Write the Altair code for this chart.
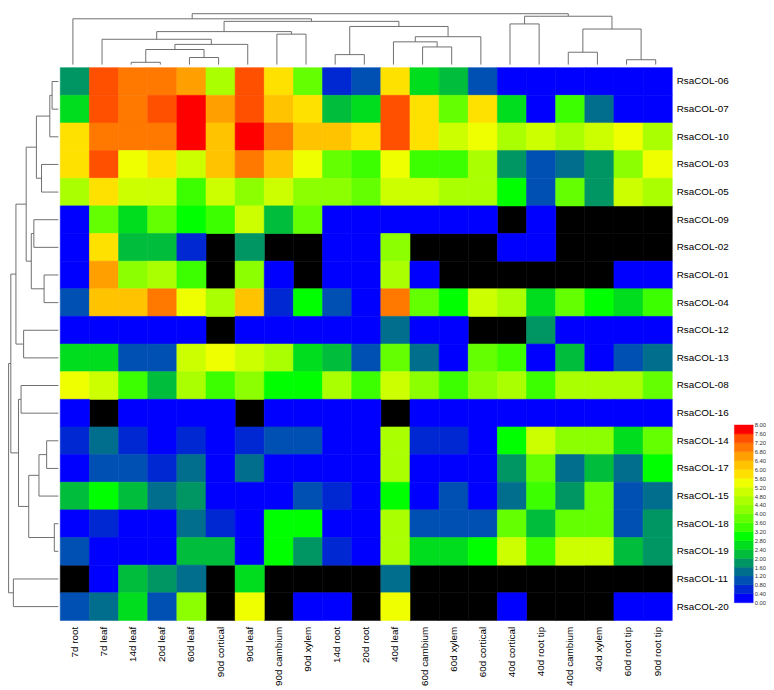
import altair as alt
import pandas as pd

N = None

genes = ["RsaCOL-06", "RsaCOL-07", "RsaCOL-10", "RsaCOL-03", "RsaCOL-05", "RsaCOL-09",
         "RsaCOL-02", "RsaCOL-01", "RsaCOL-04", "RsaCOL-12", "RsaCOL-13", "RsaCOL-08",
         "RsaCOL-16", "RsaCOL-14", "RsaCOL-17", "RsaCOL-15", "RsaCOL-18", "RsaCOL-19",
         "RsaCOL-11", "RsaCOL-20"]

tissues = ["7d root", "7d leaf", "14d leaf", "20d leaf", "60d leaf", "90d cortical",
           "90d leaf", "90d cambium", "90d xylem", "14d root", "20d root", "40d leaf",
           "60d cambium", "60d xylem", "60d cortical", "40d cortical", "40d root tip",
           "40d cambium", "40d xylem", "60d root tip", "90d root tip"]

# expression values per gene (columns in tissue order), None = missing (black)
col06 = [1.8, 7.4, 7.0, 7.0, 6.6, 4.6, 7.4, 5.8, 3.8, 0.5, 1.0, 5.8, 2.6, 2.2, 1.0, 0.2, 0.2, 0.2, 0.2, 0.2, 0.2]
col07 = [2.7, 7.4, 7.0, 7.4, 7.8, 6.6, 7.4, 6.2, 5.8, 2.2, 2.7, 7.4, 5.9, 3.7, 5.9, 2.6, 0.2, 3.3, 1.4, 0.2, 0.2]
col10 = [5.8, 7.0, 7.0, 7.0, 7.8, 6.2, 8.0, 7.0, 6.2, 6.2, 5.8, 7.4, 5.9, 5.0, 5.4, 4.6, 5.0, 4.6, 5.0, 5.4, 4.6]
col03 = [5.8, 7.4, 5.4, 5.8, 5.0, 6.2, 7.0, 6.2, 5.4, 3.7, 3.3, 5.4, 3.4, 3.4, 4.5, 1.8, 0.9, 1.3, 1.8, 4.1, 5.4]
col05 = [4.6, 5.8, 5.0, 5.0, 3.4, 5.0, 4.1, 5.0, 4.1, 4.1, 3.7, 5.0, 5.0, 4.6, 4.6, 3.0, 1.0, 3.7, 1.8, 5.0, 4.6]
col09 = [0.2, 3.7, 2.5, 3.7, 3.0, 3.3, 5.0, 2.2, 3.7, 0.2, 0.2, 0.2, 0.2, 0.2, 0.2, N, 0.2, N, N, N, N]
col02 = [0.2, 5.8, 2.2, 2.2, 0.6, N, 1.8, N, N, 0.2, 0.2, 4.3, N, N, N, 0.2, 0.2, N, N, N, N]
col01 = [0.2, 6.6, 4.1, 4.6, 3.3, N, 4.1, 0.2, N, 0.2, 0.2, 4.6, 0.2, N, N, N, N, N, N, 0.2, 0.2]
col04 = [1.0, 6.2, 6.2, 7.0, 5.4, 4.6, 6.2, 0.6, 3.0, 1.0, 0.2, 7.0, 3.7, 3.0, 5.0, 4.5, 2.5, 3.7, 3.0, 2.5, 3.4]
col12 = [0.2, 0.2, 0.2, 0.2, 0.2, N, 0.2, 0.2, 0.2, 0.2, 0.2, 1.4, 0.2, 0.2, N, N, 1.8, 0.2, 0.2, 0.2, 0.2]
col13 = [2.7, 2.7, 1.0, 1.0, 5.0, 5.4, 5.1, 4.6, 2.7, 2.2, 1.0, 3.7, 1.4, 0.2, 3.7, 3.3, 0.2, 2.2, 0.2, 1.0, 1.4]
col08 = [5.4, 5.0, 3.4, 2.2, 4.6, 3.4, 4.1, 3.1, 3.1, 4.6, 3.4, 5.0, 4.1, 3.4, 4.1, 4.5, 3.4, 4.6, 4.5, 4.5, 3.7]
col16 = [0.2, N, 0.2, 0.2, 0.2, 0.2, N, 0.2, 0.2, 0.2, 0.2, N, 0.2, 0.2, 0.2, 0.2, 0.2, 0.2, 0.2, 0.2, 0.2]
col14 = [0.6, 1.4, 0.6, 0.2, 0.6, 0.2, 0.6, 1.0, 1.0, 0.2, 0.2, 4.6, 0.6, 0.6, 0.2, 3.0, 5.0, 4.1, 4.1, 2.6, 3.7]
col17 = [0.2, 1.0, 1.0, 0.6, 1.4, 0.2, 1.4, 0.2, 0.2, 0.2, 0.2, 4.5, 0.2, 0.2, 0.2, 1.8, 3.7, 1.4, 2.2, 1.4, 3.0]
col15 = [2.2, 3.1, 2.2, 1.4, 1.8, 0.2, 0.2, 0.2, 0.9, 0.6, 0.2, 3.0, 0.2, 1.0, 0.2, 1.4, 3.3, 1.8, 3.7, 0.9, 1.4]
col18 = [0.2, 0.6, 0.2, 0.2, 1.4, 0.6, 0.2, 2.9, 2.9, 0.2, 0.2, 4.5, 1.0, 1.0, 1.0, 3.7, 2.2, 3.7, 3.7, 1.0, 1.8]
col19 = [1.0, 0.2, 0.2, 0.2, 2.2, 2.2, 0.2, 2.9, 1.8, 0.6, 0.2, 4.5, 2.7, 2.7, 3.0, 5.0, 3.3, 5.0, 5.0, 2.2, 1.8]
col11 = [N, 0.2, 2.2, 1.8, 1.4, N, 2.7, N, N, N, N, 1.4, N, N, N, N, N, N, N, N, N]
col20 = [1.0, 1.4, 2.7, 0.9, 4.1, N, 5.4, N, 0.2, 0.2, N, 5.4, N, N, N, 0.2, N, N, N, 0.2, 0.2]

gene_values = [col06, col07, col10, col03, col05, col09, col02, col01, col04, col12,
               col13, col08, col16, col14, col17, col15, col18, col19, col11, col20]

# colour key
key_ticks = [0.0, 0.4, 0.8, 1.2, 1.6, 2.0, 2.4, 2.8, 3.2, 3.6, 4.0,
             4.4, 4.8, 5.2, 5.6, 6.0, 6.4, 6.8, 7.2, 7.6, 8.0]
key_colors = ["#0000FF", "#0028D2", "#0050B4", "#006E8C", "#009664", "#00BE3C", "#00DC1E",
              "#00FF00", "#3CFF00", "#64FF00", "#8CFF00", "#AAFF00", "#CCFF00", "#F0FF00",
              "#FFE100", "#FFC300", "#FFA000", "#FF7800", "#FF5000", "#FF0000"]

# column dendrogram (leaf indices 0..20, new nodes numbered 21..)
top_left = [2, 4, 19, 9, 17, 21, 12, 26, 11, 1, 29, 7, 30, 25, 24, 15, 33, 0, 36, 38]
top_right = [3, 5, 20, 10, 18, 22, 13, 6, 27, 28, 14, 8, 32, 23, 31, 16, 35, 37, 34, 39]
top_height = [2.7, 8.3, 5.7, 11.7, 14.5, 17.7, 20.7, 23.7, 26.7, 29.7, 32.7, 35.7,
              38.7, 41.7, 44.7, 47.7, 50.7, 53.7, 56.7, 59.7]

# row dendrogram (leaf indices 0..19, new nodes numbered 20..)
side_left = [0, 20, 16, 13, 7, 3, 23, 21, 5, 28, 26, 27, 9, 11, 33, 31, 18, 35, 37]
side_right = [1, 2, 17, 14, 8, 4, 15, 25, 6, 24, 22, 29, 10, 12, 30, 32, 19, 34, 36]
side_height = [7.3, 10.0, 4.7, 13.7, 16.7, 19.7, 22.7, 25.7, 28.7, 31.7, 34.7, 37.7,
               40.7, 43.7, 46.7, 49.7, 52.7, 55.7, 58.3]


def dendro_segments(n_leaves, left, right, height):
    pos = {i: i + 0.5 for i in range(n_leaves)}
    hgt = {i: 0.0 for i in range(n_leaves)}
    segs = []
    for k, (a, b, hh) in enumerate(zip(left, right, height)):
        pa, pb = pos[a], pos[b]
        segs.append(dict(p=pa, p2=pa, h=hgt[a], h2=hh))
        segs.append(dict(p=pb, p2=pb, h=hgt[b], h2=hh))
        segs.append(dict(p=pa, p2=pb, h=hh, h2=hh))
        node = n_leaves + k
        pos[node] = (pa + pb) / 2
        hgt[node] = hh
    return pd.DataFrame(segs)


FONT = "Liberation Sans"
LINE = "#6e6e6e"
CELL_W, CELL_H = 620, 560
SIDE_W, TOP_H = 51, 54

rows = []
for g, vals in zip(genes, gene_values):
    for t, v in zip(tissues, vals):
        rows.append(dict(gene=g, tissue=t, value=v))
heat_df = pd.DataFrame(rows)

xenc = alt.X("tissue:N", sort=tissues,
             axis=alt.Axis(orient="bottom", labelAngle=270, ticks=False, domain=False,
                           labelPadding=6, labelFontSize=10, labelFont=FONT,
                           labelColor="black", title=None))
yenc = alt.Y("gene:N", sort=genes,
             axis=alt.Axis(orient="right", ticks=False, domain=False, labelPadding=4,
                           labelFontSize=10, labelFont=FONT, labelColor="black", title=None,
                           minExtent=58, maxExtent=58))

qscale = alt.Scale(type="quantize", domain=[0, 8], nice=False, range=key_colors)

base = alt.Chart(heat_df).encode(x=xenc, y=yenc)
na_layer = base.transform_filter("!isValid(datum.value)").mark_rect(
    color="black", stroke="black", strokeWidth=0.6)
val_layer = base.transform_filter("isValid(datum.value)").mark_rect(strokeWidth=0.6).encode(
    color=alt.Color("value:Q", scale=qscale, legend=None),
    stroke=alt.Stroke("value:Q", scale=qscale, legend=None),
)
heat = alt.layer(na_layer, val_layer).properties(width=CELL_W, height=CELL_H)

# top dendrogram
top_df = dendro_segments(len(tissues), top_left, top_right, top_height)
n_col = len(tissues)
top = alt.Chart(top_df).mark_rule(color=LINE, strokeWidth=1).encode(
    x=alt.X("p:Q", scale=alt.Scale(domain=[-SIDE_W / CELL_W * n_col, n_col], nice=False, zero=False), axis=None),
    x2="p2:Q",
    y=alt.Y("h:Q", scale=alt.Scale(domain=[-2.5, 60], nice=False, zero=False), axis=None),
    y2="h2:Q",
).properties(width=SIDE_W + CELL_W, height=TOP_H)

# side dendrogram
side_df = dendro_segments(len(genes), side_left, side_right, side_height)
side = alt.Chart(side_df).mark_rule(color=LINE, strokeWidth=1).encode(
    y=alt.Y("p:Q", scale=alt.Scale(domain=[0, len(genes)], reverse=True, nice=False, zero=False), axis=None),
    y2="p2:Q",
    x=alt.X("h:Q", scale=alt.Scale(domain=[59, 0], nice=False, zero=False), axis=None),
    x2="h2:Q",
).properties(width=SIDE_W, height=CELL_H)

# colour key
key_df = pd.DataFrame(dict(lo=key_ticks[:-1], hi=key_ticks[1:], fill=key_colors))
key = alt.Chart(key_df).mark_rect(strokeWidth=0.5).encode(
    y=alt.Y("lo:Q", scale=alt.Scale(domain=[-0.8, 24.09], nice=False, zero=False),
            axis=alt.Axis(orient="right", values=key_ticks, format=".2f", ticks=False,
                          domain=False, grid=False, labelFontSize=6, labelFont=FONT,
                          labelColor="#333333", labelPadding=1, title=None)),
    y2="hi:Q",
    color=alt.Color("fill:N", scale=None, legend=None),
    stroke=alt.Stroke("fill:N", scale=None, legend=None),
).properties(width=19, height=CELL_H)

main_row = alt.hconcat(alt.hconcat(side, heat, spacing=0), key, spacing=4)
chart = alt.vconcat(top, main_row, spacing=0).properties(padding=0).configure_view(stroke=None)

chart.save("out.html", embed_options={"renderer": "svg", "actions": False})
